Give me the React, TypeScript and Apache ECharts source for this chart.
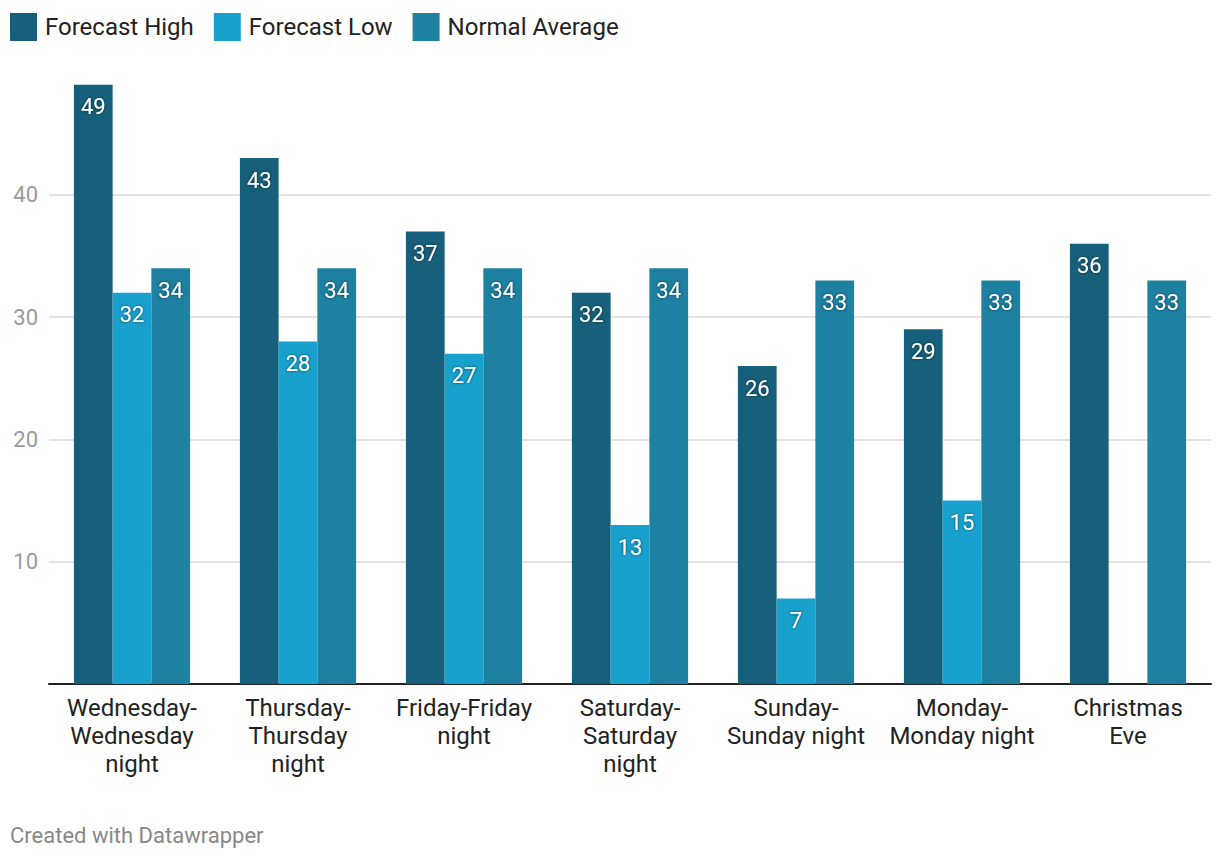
import React, { useEffect, useRef } from "react";
import * as echarts from "echarts";

const categories = [
  "Wednesday-\nWednesday\nnight",
  "Thursday-\nThursday\nnight",
  "Friday-Friday\nnight",
  "Saturday-\nSaturday\nnight",
  "Sunday-\nSunday night",
  "Monday-\nMonday night",
  "Christmas\nEve",
];
const forecastHigh = [49, 43, 37, 32, 26, 29, 36];
const forecastLow: (number | null)[] = [32, 28, 27, 13, 7, 15, null];
const normalAverage = [34, 34, 34, 34, 33, 33, 33];
const seriesNames = ["Forecast High", "Forecast Low", "Normal Average"];
const colors = ["#17607b", "#19a1cd", "#1e81a2"];

export default function App() {
  const ref = useRef<HTMLDivElement>(null);
  useEffect(() => {
    if (!ref.current) return;
    const chart = echarts.init(ref.current, undefined, { renderer: "svg" });
    const label = {
      show: true,
      position: "insideTop",
      distance: 11,
      color: "#ffffff",
      fontSize: 22,
      fontFamily: "Roboto",
      textShadowColor: "rgba(0,0,0,0.6)",
      textShadowBlur: 3,
    };
    const datas = [forecastHigh, forecastLow, normalAverage];
    chart.setOption({
      animation: false,
      textStyle: { fontFamily: "Roboto" },
      legend: {
        left: 10,
        top: 13,
        padding: 0,
        itemWidth: 27,
        itemHeight: 28,
        itemGap: 20,
        icon: "rect",
        textStyle: {
          fontSize: 24,
          color: "#222",
          fontFamily: "Roboto",
          padding: [0, 0, 0, 3],
        },
        data: seriesNames,
      },
      graphic: [
        {
          type: "text",
          left: 10,
          top: 824,
          style: {
            text: "Created with Datawrapper",
            fill: "#888",
            fontSize: 22,
            fontFamily: "Roboto",
          },
        },
      ],
      grid: { left: 49, right: 9, top: 72.5, bottom: 178, containLabel: false },
      xAxis: {
        type: "category",
        data: categories,
        axisLine: { lineStyle: { color: "#222", width: 2 } },
        axisTick: { show: false },
        axisLabel: {
          color: "#222",
          fontSize: 24,
          lineHeight: 28,
          margin: 10,
          interval: 0,
          fontFamily: "Roboto",
        },
      },
      yAxis: {
        type: "value",
        min: 0,
        max: 50,
        interval: 10,
        axisLine: { show: false },
        axisTick: { show: false },
        axisLabel: {
          color: "#9a9a9a",
          fontSize: 22,
          margin: 11,
          showMinLabel: false,
          showMaxLabel: false,
          fontFamily: "Roboto",
        },
        splitLine: {
          lineStyle: {
            color: ["transparent", "#e3e3e3", "#e3e3e3", "#e3e3e3", "#e3e3e3", "transparent"],
            width: 2,
          },
        },
      },
      series: seriesNames.map((name, i) => ({
        name,
        type: "bar",
        data: datas[i],
        itemStyle: { color: colors[i] },
        barGap: "0%",
        barCategoryGap: "30%",
        label,
      })),
    });
    return () => chart.dispose();
  }, []);
  return (
    <div
      ref={ref}
      style={{ position: "absolute", left: 0, top: 0, width: 1220, height: 862 }}
    />
  );
}
